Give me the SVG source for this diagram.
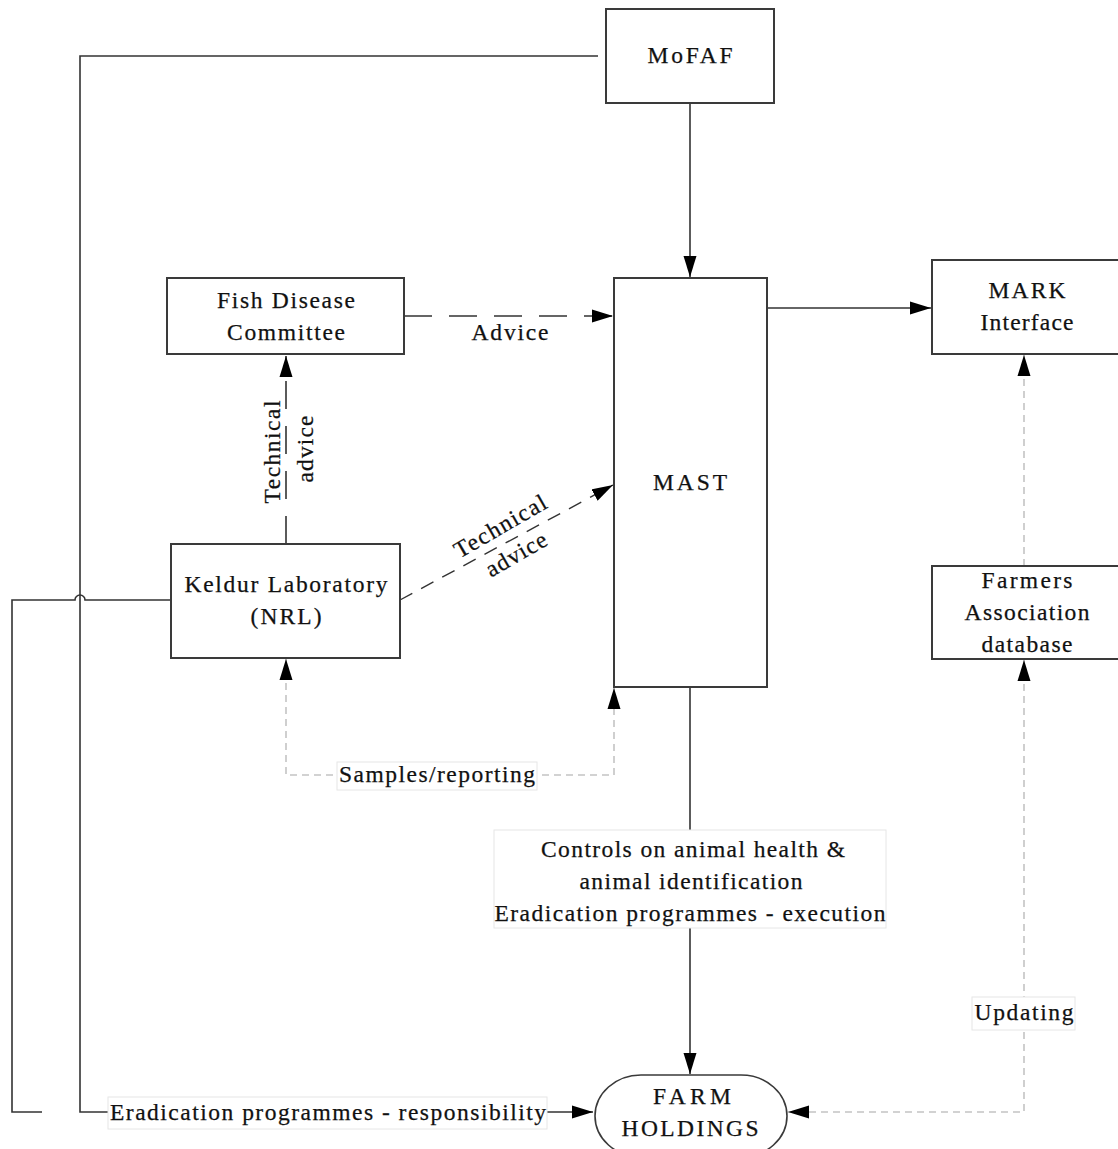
<svg xmlns="http://www.w3.org/2000/svg" width="1118" height="1149" viewBox="0 0 1118 1149">
<style>
.box{fill:#fff;stroke:#3a3a3a;stroke-width:2}
.t{font-family:"Liberation Serif","Times New Roman",serif;font-size:23.5px;fill:#111;stroke:#111;stroke-width:0.25;text-anchor:middle}
.ln{fill:none;stroke:#333;stroke-width:1.6}
.dash{fill:none;stroke:#333;stroke-width:1.6;stroke-dasharray:28 17}
.dash2{fill:none;stroke:#333;stroke-width:1.4;stroke-dasharray:14 10}
.gray{fill:none;stroke:#c4c4c4;stroke-width:1.6;stroke-dasharray:7 5}
.lbl{fill:#fff;stroke:#e6e6e6;stroke-width:1}
</style>
<defs>
<marker id="ah" markerUnits="userSpaceOnUse" markerWidth="22" markerHeight="14" refX="21" refY="7" orient="auto-start-reverse">
<path d="M0,0.5 L21,7 L0,13.5 z" fill="#000"/>
</marker>
</defs>
<g id="connectors">
<path class="ln" d="M598,56 H80 V1112 H593" marker-end="url(#ah)"/>
<path class="ln" d="M171,600 H85 A5,5 0 0 0 75,600 H12 V1112 H42"/>
<path class="ln" d="M690,103 V277" marker-end="url(#ah)"/>
<path class="dash" d="M404,316 H613" marker-end="url(#ah)"/>
<path class="ln" d="M767,308 H931" marker-end="url(#ah)"/>
<path class="dash" d="M286,544 V356" marker-end="url(#ah)"/>
<path class="dash2" d="M400,600 L613,485" marker-end="url(#ah)"/>
<path class="gray" d="M286,659 V775 H614 V688" marker-start="url(#ah)" marker-end="url(#ah)"/>
<path class="ln" d="M690,687 V1074" marker-end="url(#ah)"/>
<path class="gray" d="M1024,566 V355" marker-end="url(#ah)"/>
<path class="gray" d="M1024,660 V1112 H788" marker-start="url(#ah)" marker-end="url(#ah)"/>
</g>
<g id="labels">
<text class="t" x="510" y="340" textLength="77" lengthAdjust="spacing">Advice</text>
<text class="t" transform="translate(280,452) rotate(-90)" textLength="103" lengthAdjust="spacing">Technical</text>
<text class="t" transform="translate(313,449) rotate(-90)" textLength="67" lengthAdjust="spacing">advice</text>
<text class="t" transform="translate(504,533) rotate(-30)" textLength="103" lengthAdjust="spacing">Technical</text>
<text class="t" transform="translate(520,561) rotate(-30)" textLength="67" lengthAdjust="spacing">advice</text>
<rect class="lbl" x="337" y="762" width="200" height="28"/>
<text class="t" x="437" y="782" textLength="196" lengthAdjust="spacing">Samples/reporting</text>
<rect class="lbl" x="494" y="830" width="392" height="98"/>
<text class="t" x="693" y="857" textLength="304" lengthAdjust="spacing">Controls on animal health &amp;</text>
<text class="t" x="691" y="889" textLength="223" lengthAdjust="spacing">animal identification</text>
<text class="t" x="690" y="921" textLength="391" lengthAdjust="spacing">Eradication programmes - execution</text>
<rect class="lbl" x="972" y="997" width="103" height="33"/>
<text class="t" x="1024" y="1020" textLength="99" lengthAdjust="spacing">Updating</text>
<rect class="lbl" x="108" y="1097" width="439" height="32"/>
<text class="t" x="328" y="1120" textLength="436" lengthAdjust="spacing">Eradication programmes - responsibility</text>
</g>
<g id="mofaf">
<rect class="box" x="606" y="9" width="168" height="94"/>
<text class="t" x="690" y="63" textLength="85" lengthAdjust="spacing">MoFAF</text>
</g>
<g id="mast">
<rect class="box" x="614" y="278" width="153" height="409"/>
<text class="t" x="690" y="490" textLength="74" lengthAdjust="spacing">MAST</text>
</g>
<g id="fish-disease-committee">
<rect class="box" x="167" y="278" width="237" height="76"/>
<text class="t" x="286" y="308" textLength="138" lengthAdjust="spacing">Fish Disease</text>
<text class="t" x="286" y="340" textLength="118" lengthAdjust="spacing">Committee</text>
</g>
<g id="mark-interface">
<rect class="box" x="932" y="260" width="190" height="94"/>
<text class="t" x="1027" y="298" textLength="77" lengthAdjust="spacing">MARK</text>
<text class="t" x="1027" y="330" textLength="93" lengthAdjust="spacing">Interface</text>
</g>
<g id="farmers-association">
<rect class="box" x="932" y="566" width="190" height="93"/>
<text class="t" x="1027" y="588" textLength="91" lengthAdjust="spacing">Farmers</text>
<text class="t" x="1027" y="620" textLength="125" lengthAdjust="spacing">Association</text>
<text class="t" x="1027" y="652" textLength="91" lengthAdjust="spacing">database</text>
</g>
<g id="keldur">
<rect class="box" x="171" y="544" width="229" height="114"/>
<text class="t" x="286" y="592" textLength="203" lengthAdjust="spacing">Keldur Laboratory</text>
<text class="t" x="286" y="624" textLength="71" lengthAdjust="spacing">(NRL)</text>
</g>
<g id="farm-holdings">
<rect x="595" y="1075" width="192" height="82" rx="46" ry="41" fill="#fff" stroke="#3a3a3a" stroke-width="1.6"/>
<text class="t" x="692" y="1104" textLength="78" lengthAdjust="spacing">FARM</text>
<text class="t" x="690" y="1136" textLength="137" lengthAdjust="spacing">HOLDINGS</text>
</g>
</svg>
